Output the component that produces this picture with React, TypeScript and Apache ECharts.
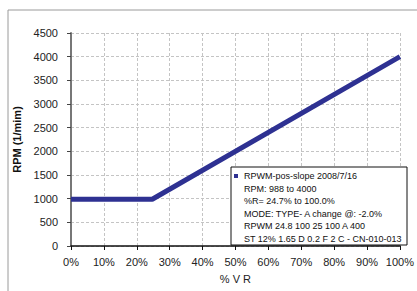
import React, { useEffect, useRef } from "react";
import * as echarts from "echarts";

const vrPercent = [0, 24.7, 100];
const rpmValues = [988, 988, 4000];
const seriesName = "RPWM-pos-slope 2008/7/16";
const legendLines = [
  "RPM: 988 to 4000",
  "%R= 24.7% to 100.0%",
  "MODE: TYPE- A change @: -2.0%",
  "RPWM 24.8 100 25 100 A 400",
  "ST 12% 1.65 D 0.2 F 2 C - CN-010-013",
];
const xTitle = "% V R";
const yTitle = "RPM (1/mim)";

const FONT = "Liberation Sans, Arial, sans-serif";
const NAVY = "#2E3192";

export default function App() {
  const ref = useRef<HTMLDivElement>(null);
  useEffect(() => {
    document.body.style.margin = "0";
    const chart = echarts.init(ref.current!, null, { renderer: "svg" });
    const legendX = 231;
    const legendY = 167;
    const lineH = 12.5;
    chart.setOption({
      animation: false,
      backgroundColor: "#fff",
      grid: { left: 71, top: 33, right: 8, bottom: 45 },
      xAxis: {
        type: "value",
        min: 0,
        max: 100,
        interval: 10,
        name: xTitle,
        nameLocation: "middle",
        nameGap: 27,
        nameTextStyle: { fontFamily: FONT, fontSize: 11, color: "#222" },
        axisLine: { show: true, onZero: false, lineStyle: { color: "#111", width: 1.5 } },
        axisTick: { show: true, length: 4, lineStyle: { color: "#111" } },
        axisLabel: { formatter: "{value}%", fontFamily: FONT, fontSize: 11, color: "#222", margin: 10 },
        splitLine: { show: true, lineStyle: { color: "#c4c4c4", type: [3, 2], width: 1 } },
      },
      yAxis: {
        type: "value",
        min: 0,
        max: 4500,
        interval: 500,
        name: yTitle,
        nameLocation: "middle",
        nameGap: 47,
        nameTextStyle: { fontFamily: FONT, fontSize: 11, fontWeight: "bold", color: "#111" },
        axisLine: { show: true, lineStyle: { color: "#777", width: 2 } },
        axisTick: { show: true, length: 4, lineStyle: { color: "#444" } },
        axisLabel: {
          formatter: (v: number) => String(v),
          fontFamily: FONT,
          fontSize: 11,
          color: "#222",
          margin: 13,
        },
        splitLine: { show: true, lineStyle: { color: "#c4c4c4", type: [3, 2], width: 1 } },
      },
      series: [
        {
          name: seriesName,
          type: "line",
          data: vrPercent.map((v, i) => [v, rpmValues[i]]),
          showSymbol: false,
          lineStyle: { color: NAVY, width: 5 },
          itemStyle: { color: NAVY },
          z: 2,
        },
      ],
      graphic: [
        {
          type: "rect",
          shape: { x: 8, y: 10, width: 430, height: 300 },
          style: { fill: "none", stroke: "#9a9a9a", lineWidth: 1 },
          silent: true,
          z: 0,
        },
        {
          type: "rect",
          shape: { x: legendX, y: legendY, width: 176, height: 78 },
          style: { fill: "#ffffff", stroke: "#111", lineWidth: 1 },
          z: 100,
        },
        {
          type: "rect",
          shape: { x: legendX + 3, y: legendY + 7, width: 4, height: 4 },
          style: { fill: NAVY },
          z: 101,
        },
        ...[seriesName, ...legendLines].map((t, i) => ({
          type: "text",
          x: legendX + 13,
          y: legendY + 9 + i * lineH,
          z: 101,
          style: {
            text: t,
            fontFamily: FONT,
            fontSize: 9,
            fill: "#111",
            verticalAlign: "middle",
            align: "left",
          },
        })),
      ],
    });
    return () => chart.dispose();
  }, []);
  return <div ref={ref} style={{ width: 417, height: 291 }} />;
}
